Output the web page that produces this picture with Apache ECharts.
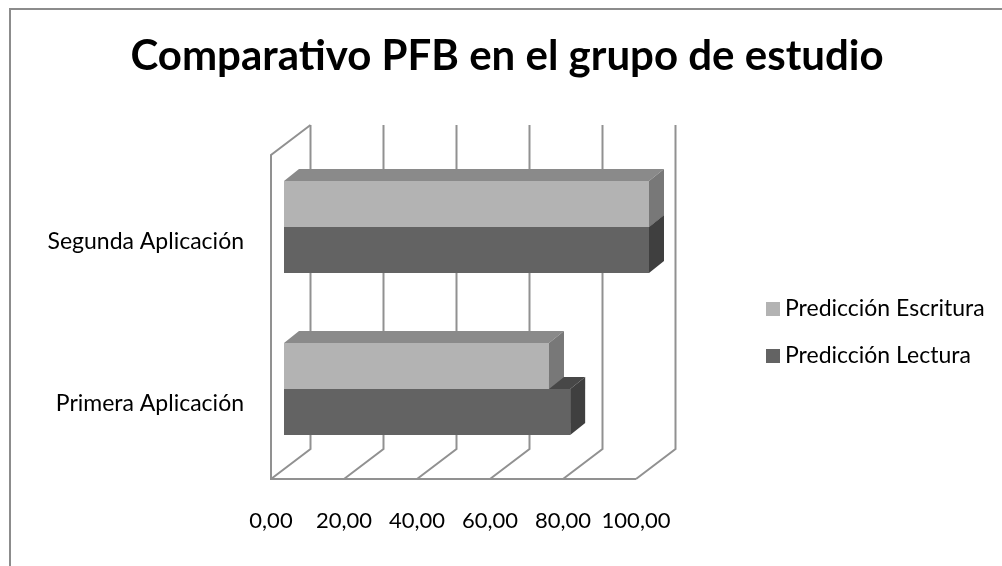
<!DOCTYPE html>
<html>
<head>
<meta charset="utf-8">
<script src="https://cdn.jsdelivr.net/npm/echarts@6/dist/echarts.min.js"></script>
<style>
  html, body { margin: 0; padding: 0; background: #fff; }
  #chart { width: 1002px; height: 566px; }
</style>
</head>
<body>
<div id="chart"></div>
<script>
const categories = ['Primera Aplicación', 'Segunda Aplicación']
const escritura = [72.6, 100]
const lectura = [78.4, 100]
const xTicks = [0, 20, 40, 60, 80, 100]
const legendNames = ['Predicción Escritura', 'Predicción Lectura']

const FONT = 'Lato'
const WALL = [39.5, -30]      // desplazamiento de la pared del fondo
const BAR_FRONT = [13, -9]    // cara frontal de la barra dentro de la profundidad
const BAR_DEPTH = [15, -12]
const lineColor = '#919191'

const chart = echarts.init(document.getElementById('chart'))

function renderFrame(params, api) {
  const cs = params.coordSys
  const floorY = cs.y + cs.height
  const x = api.coord([api.value(0), 0])[0]
  const style = { stroke: lineColor, lineWidth: 2, fill: 'none' }
  const children = [{
    type: 'polyline',
    shape: { points: [[x, floorY], [x + WALL[0], floorY + WALL[1]], [x + WALL[0], cs.y + WALL[1]]] },
    style
  }]
  if (params.dataIndex === 0) {
    const xEnd = api.coord([xTicks[xTicks.length - 1], 0])[0]
    children.push({
      type: 'polyline',
      shape: { points: [[xEnd, floorY], [x, floorY], [x, cs.y], [x + WALL[0], cs.y + WALL[1]]] },
      style
    })
  }
  return { type: 'group', children }
}

// order 0 = barra de arriba, 1 = barra de abajo
function barRender(order, colors) {
  return function (params, api) {
    const val = api.value(0)
    const cat = api.value(1)
    const start = api.coord([0, cat])
    const end = api.coord([val, cat])
    const band = api.size([0, 1])[1]
    const h = band * 0.284
    const top = start[1] + (order === 0 ? -h : 0) + BAR_FRONT[1]
    const x0 = start[0] + BAR_FRONT[0]
    const x1 = end[0] + BAR_FRONT[0]
    const dx = BAR_DEPTH[0], dy = BAR_DEPTH[1]
    return {
      type: 'group',
      children: [
        { type: 'polygon', shape: { points: [[x0, top], [x1, top], [x1 + dx, top + dy], [x0 + dx, top + dy]] }, style: { fill: colors.top } },
        { type: 'polygon', shape: { points: [[x1, top], [x1 + dx, top + dy], [x1 + dx, top + h + dy], [x1, top + h]] }, style: { fill: colors.side } },
        { type: 'rect', shape: { x: x0, y: top, width: x1 - x0, height: h }, style: { fill: colors.front } }
      ]
    }
  }
}

const option = {
  animation: false,
  textStyle: { fontFamily: FONT },
  graphic: [{
    type: 'rect',
    shape: { x: 10, y: 9, width: 1010, height: 600 },
    style: { fill: 'none', stroke: '#8c8c8c', lineWidth: 2 },
    silent: true
  }],
  title: {
    text: 'Comparativo PFB en el grupo de estudio',
    left: 502,
    textAlign: 'center',
    top: 30,
    textStyle: { fontFamily: FONT, fontWeight: 'bold', fontSize: 42, color: '#000' }
  },
  legend: {
    data: [
      { name: legendNames[0], itemStyle: { color: '#b3b3b3' } },
      { name: legendNames[1], itemStyle: { color: '#636363' } }
    ],
    orient: 'vertical',
    left: 761,
    top: 292,
    icon: 'rect',
    itemWidth: 14,
    itemHeight: 14,
    itemGap: 23,
    textStyle: { fontFamily: FONT, fontSize: 23, color: '#000', lineHeight: 24 }
  },
  grid: {
    left: 271,
    right: 366,
    top: 155,
    bottom: 87
  },
  xAxis: {
    type: 'value',
    min: 0,
    max: 100,
    interval: 20,
    axisLine: { show: false },
    axisTick: { show: false },
    splitLine: { show: false },
    axisLabel: {
      margin: 31,
      fontSize: 22,
      color: '#000',
      fontFamily: FONT,
      formatter: v => v.toFixed(2).replace('.', ',')
    }
  },
  yAxis: {
    type: 'category',
    data: categories,
    axisLine: { show: false },
    axisTick: { show: false },
    splitLine: { show: false },
    axisLabel: {
      margin: 27,
      fontSize: 23,
      color: '#000',
      fontFamily: FONT,
      verticalAlign: 'top',
      lineHeight: 12
    }
  },
  series: [
    {
      name: 'frame',
      type: 'custom',
      renderItem: renderFrame,
      data: xTicks.map(v => [v, 0]),
      encode: { x: 0, y: 1 },
      silent: true,
      z: 1
    },
    {
      name: legendNames[1],
      type: 'custom',
      renderItem: barRender(1, { front: '#636363', top: '#474747', side: '#3f3f3f' }),
      data: lectura.map((v, i) => [v, i]),
      encode: { x: 0, y: 1 },
      itemStyle: { color: '#636363' },
      z: 2
    },
    {
      name: legendNames[0],
      type: 'custom',
      renderItem: barRender(0, { front: '#b3b3b3', top: '#8a8a8a', side: '#787878' }),
      data: escritura.map((v, i) => [v, i]),
      encode: { x: 0, y: 1 },
      itemStyle: { color: '#b3b3b3' },
      z: 2
    }
  ]
}

chart.setOption(option)
</script>
</body>
</html>
